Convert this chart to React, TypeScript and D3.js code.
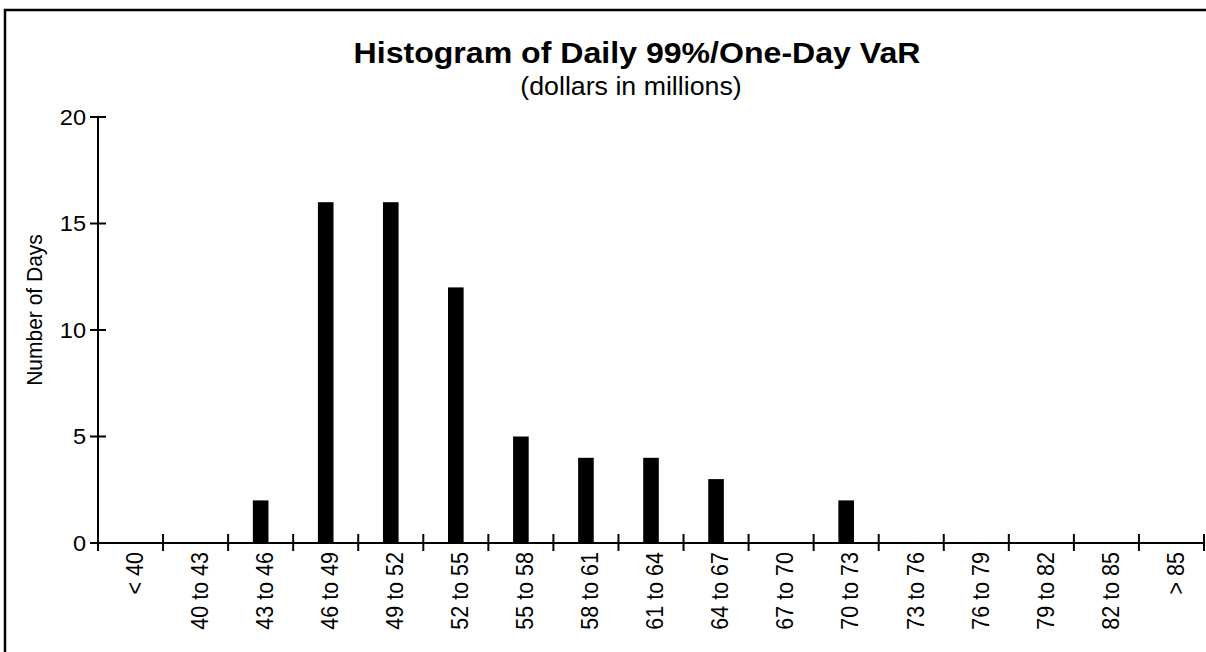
import React from "react";
import * as d3 from "d3";

const bins = [
  "< 40", "40 to 43", "43 to 46", "46 to 49", "49 to 52", "52 to 55",
  "55 to 58", "58 to 61", "61 to 64", "64 to 67", "67 to 70", "70 to 73",
  "73 to 76", "76 to 79", "79 to 82", "82 to 85", "> 85",
];
const days = [0, 0, 2, 16, 16, 12, 5, 4, 4, 3, 0, 2, 0, 0, 0, 0, 0];
const yTicks = [0, 5, 10, 15, 20];

const W = 1206;
const H = 652;
const font = "'Liberation Sans', Arial, Helvetica, sans-serif";
// the source text is a little wider than it is tall
const SX = 1.07;

export default function App() {
  const x = d3.scaleBand<string>().domain(bins).range([98, 1204]).padding(0);
  const y = d3.scaleLinear().domain([0, 20]).range([543, 117]);
  const bw = x.bandwidth() * 0.24;
  const edges = bins.map((b) => x(b) as number).concat([1204]);
  const mid = (b: string) => (x(b) as number) + x.bandwidth() / 2;

  return (
    <div style={{ position: "absolute", left: 0, top: 0 }}>
      <svg width={W} height={H} style={{ display: "block", fontFamily: font }}>
        <rect width={W} height={H} fill="#fff" />
        {/* frame: only left and top edges show */}
        <path d={`M5,${H} V10 H${W}`} fill="none" stroke="#000" strokeWidth={2.5} />

        <text transform={`translate(637,63) scale(${SX},1)`} textAnchor="middle" fontSize={30} fontWeight="bold">
          Histogram of Daily 99%/One-Day VaR
        </text>
        <text transform={`translate(631,95) scale(${SX},1)`} textAnchor="middle" fontSize={25}>
          (dollars in millions)
        </text>

        {/* bars */}
        {days.map((d, i) => (
          <rect
            key={bins[i]}
            x={mid(bins[i]) - bw / 2}
            y={y(d)}
            width={bw}
            height={y(0) - y(d)}
            fill="#000"
          />
        ))}

        {/* y axis */}
        <line x1={98} x2={98} y1={y(20)} y2={y(0)} stroke="#000" strokeWidth={2} />
        {yTicks.map((t) => (
          <g key={t}>
            <line x1={90} x2={106} y1={y(t)} y2={y(t)} stroke="#000" strokeWidth={2} />
            <text
              transform={`translate(86,${y(t)}) scale(${SX},1)`}
              dy="0.36em"
              textAnchor="end"
              fontSize={22}
            >
              {t}
            </text>
          </g>
        ))}
        <text
          transform={`translate(42,310) scale(${SX},1) rotate(-90)`}
          textAnchor="middle"
          fontSize={21}
        >
          Number of Days
        </text>

        {/* x axis */}
        <line x1={98} x2={1204} y1={y(0)} y2={y(0)} stroke="#000" strokeWidth={2} />
        {edges.map((e, i) => (
          <line key={i} x1={e} x2={e} y1={534} y2={551} stroke="#000" strokeWidth={2} />
        ))}
        {bins.map((b) => (
          <text
            key={b}
            transform={`translate(${mid(b) + 4},552) scale(${SX},1) rotate(-90)`}
            textAnchor="end"
            dy="0.36em"
            fontSize={21.5}
          >
            {b}
          </text>
        ))}
      </svg>
    </div>
  );
}
